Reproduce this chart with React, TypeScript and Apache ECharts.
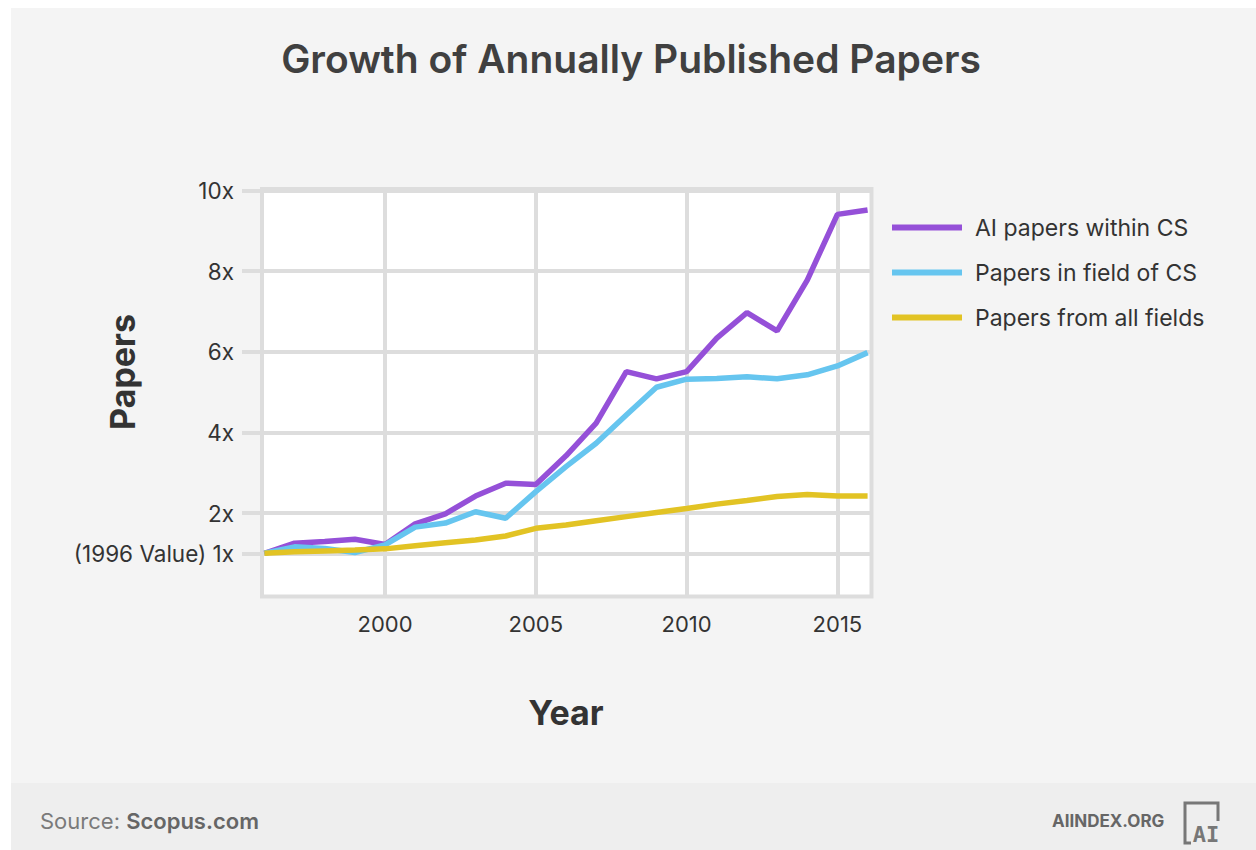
import React, { useEffect, useRef } from "react";
import * as echarts from "echarts";

const years = [1996, 1997, 1998, 1999, 2000, 2001, 2002, 2003, 2004, 2005, 2006, 2007, 2008, 2009, 2010, 2011, 2012, 2013, 2014, 2015, 2016];
const aiPapers = [1.0, 1.25, 1.29, 1.35, 1.22, 1.73, 1.98, 2.42, 2.74, 2.71, 3.42, 4.23, 5.51, 5.33, 5.51, 6.34, 6.97, 6.52, 7.78, 9.41, 9.52];
const csPapers = [1.0, 1.16, 1.12, 1.02, 1.21, 1.65, 1.75, 2.03, 1.87, 2.53, 3.15, 3.73, 4.43, 5.12, 5.32, 5.34, 5.38, 5.33, 5.43, 5.65, 5.98];
const allPapers = [1.0, 1.04, 1.06, 1.08, 1.11, 1.19, 1.26, 1.33, 1.43, 1.62, 1.7, 1.81, 1.91, 2.01, 2.11, 2.22, 2.31, 2.41, 2.46, 2.42, 2.42];
const seriesNames = ["AI papers within CS", "Papers in field of CS", "Papers from all fields"];
const seriesColors = ["#9550d8", "#66c5ef", "#e2c324"];
const xTickValues = [2000, 2005, 2010, 2015];
const yTickValues = [1, 2, 4, 6, 8, 10];

const FONT = "Inter, 'Noto Sans', sans-serif";

export default function App() {
  const ref = useRef<HTMLDivElement>(null);
  useEffect(() => {
    if (!ref.current) return;
    const chart = echarts.init(ref.current, undefined, { renderer: "svg" });
    const toPairs = (vals: number[]) => years.map((y, i) => [y, vals[i]]);
    const allSeries = [aiPapers, csPapers, allPapers];
    chart.setOption({
      animation: false,
      backgroundColor: "#ffffff",
      textStyle: { fontFamily: FONT },
      grid: {
        left: 262,
        right: 384.5,
        top: 189,
        bottom: 253.5,
        show: true,
        backgroundColor: "#ffffff",
        borderColor: "#dddddd",
        borderWidth: 4,
      },
      legend: {
        orient: "vertical",
        left: 887,
        top: 210,
        icon: "rect",
        itemWidth: 70,
        itemHeight: 6,
        itemGap: 20,
        itemTextGap: 13,
        textStyle: {
          fontFamily: FONT,
          fontSize: 23,
          color: "#333333",
          lineHeight: 25,
          padding: [0, 0, 0, 8],
        },
        data: seriesNames,
      },
      xAxis: {
        type: "value",
        min: 1995.92,
        max: 2016.13,
        axisLine: { show: false },
        axisTick: { show: false, customValues: xTickValues },
        axisLabel: {
          customValues: xTickValues,
          margin: 16,
          fontFamily: FONT,
          fontSize: 22,
          color: "#333333",
          formatter: (v: number) => String(v),
        },
        splitLine: { show: true, lineStyle: { color: "#dddddd", width: 4 } },
      },
      yAxis: {
        type: "value",
        min: -0.072,
        max: 10.04,
        axisLine: { show: false },
        axisTick: {
          show: true,
          customValues: yTickValues,
          length: 20,
          inside: false,
          lineStyle: { color: "#dddddd", width: 4 },
        },
        axisLabel: {
          customValues: yTickValues,
          margin: 28,
          fontFamily: FONT,
          fontSize: 22.5,
          color: "#333333",
          formatter: (v: number) => (v === 1 ? "(1996 Value) 1x" : v + "x"),
        },
        splitLine: { show: true, lineStyle: { color: "#dddddd", width: 4 } },
      },
      series: allSeries.map((vals, i) => ({
        name: seriesNames[i],
        type: "line",
        data: toPairs(vals),
        symbol: "none",
        color: seriesColors[i],
        lineStyle: { color: seriesColors[i], width: 5.5 },
        z: 3 + i,
      })),
      graphic: [
        {
          type: "rect",
          z: -100,
          silent: true,
          shape: { x: 11, y: 8, width: 1245, height: 842 },
          style: { fill: "#f4f4f4" },
        },
        {
          type: "rect",
          z: -99,
          silent: true,
          shape: { x: 11, y: 783, width: 1245, height: 67 },
          style: { fill: "#eeeeee" },
        },
        {
          type: "text",
          x: 631,
          y: 58,
          style: {
            text: "Growth of Annually Published Papers",
            font: `600 39px ${FONT}`,
            fill: "#404040",
            textAlign: "center",
            textVerticalAlign: "middle",
          },
        },
        {
          type: "text",
          x: 122,
          y: 372,
          rotation: Math.PI / 2,
          style: {
            text: "Papers",
            font: `700 34px ${FONT}`,
            fill: "#333333",
            textAlign: "center",
            textVerticalAlign: "middle",
          },
        },
        {
          type: "text",
          x: 566,
          y: 712,
          style: {
            text: "Year",
            font: `700 34px ${FONT}`,
            fill: "#333333",
            textAlign: "center",
            textVerticalAlign: "middle",
          },
        },
        {
          type: "text",
          x: 40,
          y: 821,
          style: {
            text: "{a|Source: }{b|Scopus.com}",
            textVerticalAlign: "middle",
            rich: {
              a: { fontFamily: FONT, fontSize: 22, fill: "#7a7a7a", fontWeight: 400 },
              b: { fontFamily: FONT, fontSize: 22, fill: "#666666", fontWeight: 600 },
            },
          },
        },
        {
          type: "text",
          x: 1052,
          y: 821,
          style: {
            text: "AIINDEX.ORG",
            font: `700 17px ${FONT}`,
            fill: "#666666",
            textVerticalAlign: "middle",
          },
        },
        {
          type: "polyline",
          shape: { points: [[1191, 843], [1185, 843], [1185, 803], [1218, 803], [1218, 821]] },
          style: { stroke: "#777777", lineWidth: 3, fill: "none" },
        },
        {
          type: "text",
          x: 1206,
          y: 834,
          style: {
            text: "AI",
            font: `700 22px 'DejaVu Sans Mono', monospace`,
            fill: "#777777",
            textAlign: "center",
            textVerticalAlign: "middle",
          },
        },
      ],
    });
    return () => chart.dispose();
  }, []);
  return (
    <div
      ref={ref}
      style={{ position: "absolute", left: 0, top: 0, width: 1256, height: 850 }}
    />
  );
}
